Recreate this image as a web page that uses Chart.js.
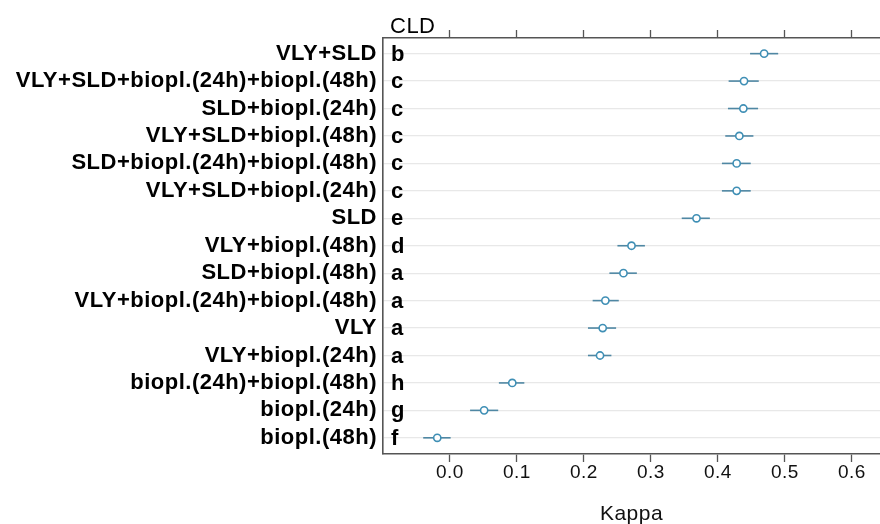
<!DOCTYPE html>
<html>
<head>
<meta charset="utf-8">
<script src="https://cdn.jsdelivr.net/npm/chart.js@4/dist/chart.umd.min.js"></script>
<style>
html,body{margin:0;padding:0;background:#fff;overflow:hidden;}
#wrap{width:880px;height:524px;position:relative;}
</style>
</head>
<body>
<div id="wrap"><canvas id="c" width="880" height="524"></canvas></div>
<script>
const categories = [
  "VLY+SLD",
  "VLY+SLD+biopl.(24h)+biopl.(48h)",
  "SLD+biopl.(24h)",
  "VLY+SLD+biopl.(48h)",
  "SLD+biopl.(24h)+biopl.(48h)",
  "VLY+SLD+biopl.(24h)",
  "SLD",
  "VLY+biopl.(48h)",
  "SLD+biopl.(48h)",
  "VLY+biopl.(24h)+biopl.(48h)",
  "VLY",
  "VLY+biopl.(24h)",
  "biopl.(24h)+biopl.(48h)",
  "biopl.(24h)",
  "biopl.(48h)"
];
const cldLetters = ["b","c","c","c","c","c","e","d","a","a","a","a","h","g","f"];
const kappa = [0.469,0.439,0.438,0.432,0.428,0.428,0.368,0.271,0.259,0.232,0.228,0.224,0.093,0.051,-0.019];
const lower = [0.448,0.416,0.415,0.411,0.406,0.406,0.346,0.250,0.238,0.213,0.206,0.206,0.073,0.030,-0.040];
const upper = [0.490,0.461,0.460,0.453,0.449,0.449,0.388,0.291,0.279,0.252,0.248,0.241,0.111,0.072,0.001];
const xTicks = [0.0,0.1,0.2,0.3,0.4,0.5,0.6];

const FONT = "'Liberation Sans', Arial, sans-serif";

const spacing = {
  id: 'spacing',
  beforeLayout(chart) { chart.ctx.letterSpacing = '0.5px'; },
  beforeDraw(chart) { chart.ctx.letterSpacing = '0.5px'; }
};

const errorBars = {
  id: 'errorBars',
  beforeDatasetsDraw(chart) {
    const {ctx} = chart;
    const xs = chart.scales.x, ys = chart.scales.y;
    ctx.save();
    ctx.strokeStyle = '#4f87a3';
    ctx.lineWidth = 1.6;
    for (let i = 0; i < kappa.length; i++) {
      const y = ys.getPixelForValue(i);
      ctx.beginPath();
      ctx.moveTo(xs.getPixelForValue(lower[i]), y);
      ctx.lineTo(xs.getPixelForValue(upper[i]), y);
      ctx.stroke();
    }
    ctx.restore();
  },
  afterDraw(chart) {
    const {ctx, chartArea} = chart;
    const ys = chart.scales.y;
    ctx.save();
    ctx.fillStyle = '#000';
    ctx.font = "bold 22px " + FONT;
    ctx.textAlign = 'left';
    ctx.textBaseline = 'middle';
    for (let i = 0; i < cldLetters.length; i++) {
      ctx.fillText(cldLetters[i], chartArea.left + 8, ys.getPixelForValue(i) + 1);
    }
    ctx.font = "22px " + FONT;
    ctx.textBaseline = 'alphabetic';
    ctx.fillText("CLD", chartArea.left + 7, chartArea.top - 5);
    ctx.restore();
  }
};

function noPad(axis) { axis.paddingLeft = 0; axis.paddingRight = 0; }

new Chart(document.getElementById('c'), {
  type: 'scatter',
  data: {
    datasets: [{
      data: kappa.map((v, i) => ({x: v, y: i})),
      pointStyle: 'circle',
      pointRadius: 3.6,
      pointBorderWidth: 1.6,
      pointBorderColor: '#3f8fb5',
      pointBackgroundColor: '#ffffff',
      pointHoverRadius: 3.6
    }]
  },
  options: {
    responsive: false,
    animation: false,
    layout: {autoPadding: false, padding: {left: 0, right: 0, top: 0, bottom: 0}},
    plugins: {legend: {display: false}, tooltip: {enabled: false}},
    scales: {
      x: {
        type: 'linear',
        position: 'bottom',
        min: -0.1,
        max: 0.642,
        afterBuildTicks(axis) { axis.ticks = xTicks.map(v => ({value: v})); },
        afterFit(axis) { axis.height = 70; noPad(axis); },
        grid: {drawOnChartArea: false, drawTicks: true, tickLength: 8, color: '#555', tickWidth: 1.3},
        border: {display: true, color: '#555', width: 1.6},
        ticks: {
          color: '#111', padding: -1,
          font: {family: FONT, size: 19},
          callback: v => v.toFixed(1),
          maxRotation: 0, autoSkip: false
        },
        title: {display: true, text: 'Kappa', color: '#111', font: {family: FONT, size: 21}, padding: {top: 0, bottom: -3}}
      },
      x2: {
        type: 'linear',
        position: 'top',
        min: -0.1,
        max: 0.642,
        afterBuildTicks(axis) { axis.ticks = xTicks.map(v => ({value: v})); },
        afterFit(axis) { axis.height = 38; noPad(axis); },
        grid: {drawOnChartArea: false, drawTicks: true, tickLength: 8, color: '#555', tickWidth: 1.3},
        border: {display: true, color: '#555', width: 1.6},
        ticks: {display: false}
      },
      y: {
        type: 'linear',
        reverse: true,
        min: -0.57,
        max: 14.59,
        afterBuildTicks(axis) { axis.ticks = categories.map((_, i) => ({value: i})); },
        afterFit(axis) { axis.width = 383; axis.paddingTop = 0; axis.paddingBottom = 0; },
        grid: {drawTicks: false, color: '#e8e8e8', lineWidth: 1.2},
        border: {display: true, color: '#555', width: 1.6},
        ticks: {
          color: '#000', padding: 6, autoSkip: false,
          font: {family: FONT, size: 22, weight: 'bold'},
          callback: (v) => categories[v]
        }
      }
    }
  },
  plugins: [spacing, errorBars]
});
</script>
</body>
</html>
